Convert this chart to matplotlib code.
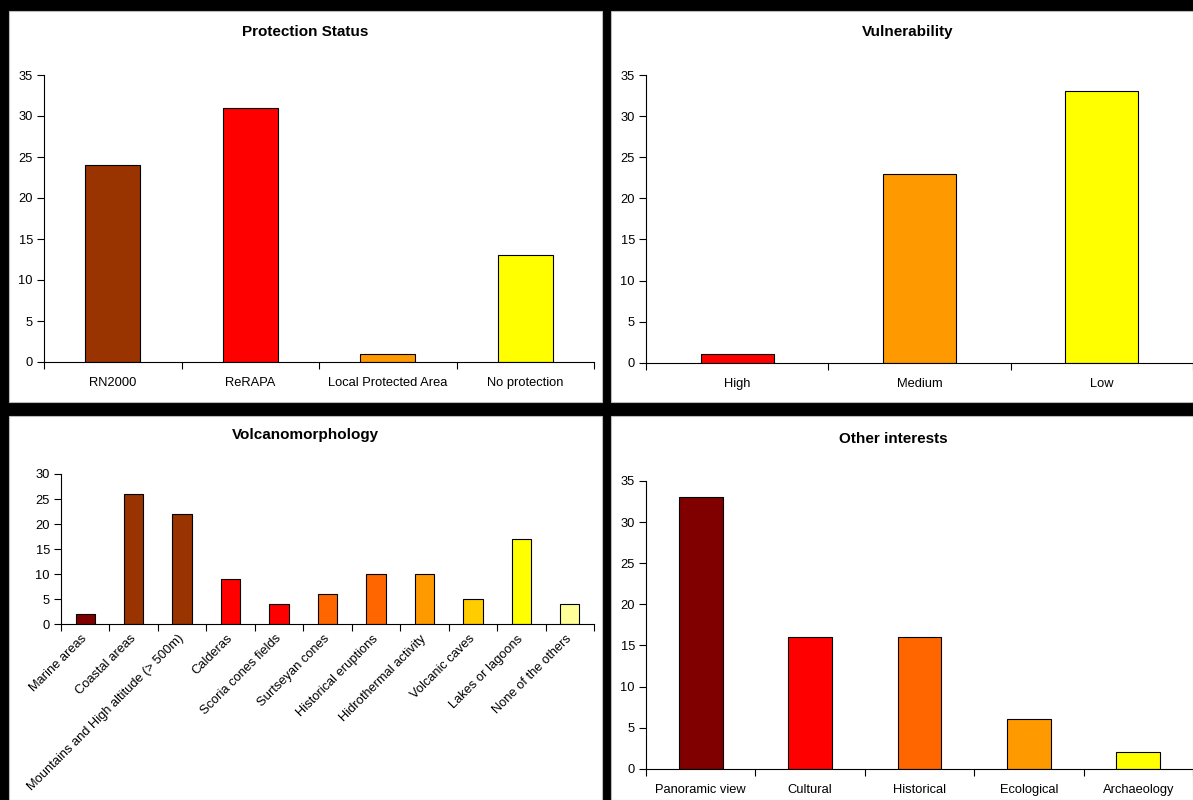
import numpy as np
import matplotlib
matplotlib.use("Agg")
import matplotlib.pyplot as plt
from matplotlib.patches import Rectangle
from matplotlib.transforms import ScaledTranslation

plt.rcParams["font.family"] = ["Liberation Sans", "DejaVu Sans"]

# --- data -------------------------------------------------------------
protection_cats = ["RN2000", "ReRAPA", "Local Protected Area", "No protection"]
protection_vals = [24, 31, 1, 13]
protection_cols = ["#993300", "#FF0000", "#FF9900", "#FFFF00"]

vulnerability_cats = ["High", "Medium", "Low"]
vulnerability_vals = [1, 23, 33]
vulnerability_cols = ["#FF0000", "#FF9900", "#FFFF00"]

volcano_cats = ["Marine areas", "Coastal areas", "Mountains and High altitude (> 500m)",
                "Calderas", "Scoria cones fields", "Surtseyan cones",
                "Historical eruptions", "Hidrothermal activity", "Volcanic caves",
                "Lakes or lagoons", "None of the others"]
volcano_vals = [2, 26, 22, 9, 4, 6, 10, 10, 5, 17, 4]
volcano_cols = ["#800000", "#993300", "#993300", "#FF0000", "#FF0000", "#FF6600",
                "#FF6600", "#FF9900", "#FFCC00", "#FFFF00", "#FFFF99"]

other_cats = ["Panoramic view", "Cultural", "Historical", "Ecological", "Archaeology"]
other_vals = [33, 16, 16, 6, 2]
other_cols = ["#800000", "#FF0000", "#FF6600", "#FF9900", "#FFFF00"]

W, H = 1193, 800
fig = plt.figure(figsize=(W / 100, H / 100), dpi=100, facecolor="black")


def px_rect(x0, y0, x1, y1):
    """pixel box (top-left origin) -> figure fraction [l, b, w, h]"""
    return [x0 / W, 1 - y1 / H, (x1 - x0) / W, (y1 - y0) / H]


# white panels, drawn below the axes
for x0, y0, x1, y1 in [(9, 11, 602, 402), (611, 11, 1193, 402),
                       (9, 416, 602, 800), (611, 416, 1193, 800)]:
    l, b, w, h = px_rect(x0, y0, x1, y1)
    fig.patches.append(Rectangle((l, b), w, h, transform=fig.transFigure,
                                 facecolor="white", edgecolor="#bbbbbb",
                                 linewidth=0.8, zorder=-10))


def bar_panel(box, cats, vals, cols, ymax, rotate=False):
    ax = fig.add_axes(px_rect(*box))
    ax.set_facecolor("none")
    n = len(cats)
    x = np.arange(n)
    ax.bar(x, vals, width=0.4, color=cols, edgecolor="black", linewidth=0.8)
    ax.set_xlim(-0.5, n - 0.5)
    ax.set_ylim(0, ymax)
    ax.set_yticks(np.arange(0, ymax + 1, 5))
    ax.set_xticks(np.arange(n + 1) - 0.5, [""] * (n + 1))
    if rotate:
        ax.set_xticks(x, cats, minor=True, rotation=45, ha="right",
                      rotation_mode="anchor")
    else:
        ax.set_xticks(x, cats, minor=True)
    ax.tick_params(which="minor", length=0, pad=11, labelsize=9.3)
    ax.tick_params(which="major", length=5, direction="out", labelsize=9.3, width=0.8)
    ax.tick_params(axis="y", pad=3)
    for side in ["top", "right"]:
        ax.spines[side].set_visible(False)
    for side in ["left", "bottom"]:
        ax.spines[side].set_linewidth(0.8)
    return ax


bar_panel((44, 75, 594, 362), protection_cats, protection_vals, protection_cols, 35)
bar_panel((646, 75, 1193, 362.7), vulnerability_cats, vulnerability_vals,
          vulnerability_cols, 35)
ax3 = bar_panel((61, 474, 594, 624.3), volcano_cats, volcano_vals, volcano_cols, 30,
                rotate=True)
ax3.tick_params(which="minor", pad=6, labelsize=9.3)
# nudge rotated labels a little to the left, like the original
shift = ScaledTranslation(-4 / 100, 0, fig.dpi_scale_trans)
for lab in ax3.get_xticklabels(minor=True):
    lab.set_transform(lab.get_transform() + shift)
bar_panel((646, 481, 1193, 768.7), other_cats, other_vals, other_cols, 35)

# titles
for txt, xp, yp in [("Protection Status", 305, 32), ("Vulnerability", 908, 32),
                     ("Volcanomorphology", 305, 435), ("Other interests", 893, 439)]:
    fig.text(xp / W, 1 - yp / H, txt, ha="center", va="center",
             fontsize=11, fontweight="bold")

fig.savefig("out.png", dpi=100, facecolor="black")
